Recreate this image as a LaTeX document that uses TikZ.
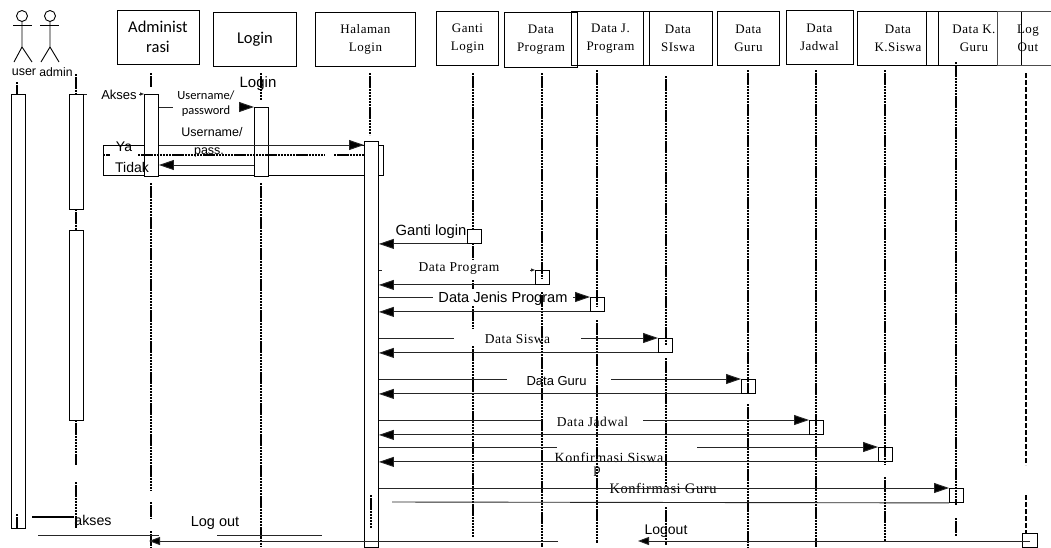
\documentclass[tikz,border=0pt]{standalone}
\usepackage{fontspec}
\usepackage{tikz}
\usetikzlibrary{positioning,arrows.meta}
\setmainfont{Liberation Sans}
\newfontfamily\serifbox[LetterSpace=4]{Liberation Serif}
\newfontfamily\calibox{Carlito}

\begin{document}
\begin{tikzpicture}[
    x=1pt, y=-1pt,
    head/.style={draw, circle, inner sep=0pt, minimum size=11pt, line width=0.9pt},
    limb/.style={line width=0.9pt},
    obj/.style={draw, line width=0.9pt, inner sep=0pt, align=center, anchor=north west},
    objserif/.style={obj, font=\fontsize{13}{18}\selectfont\serifbox},
    objcali/.style={obj, font=\fontsize{16.5}{20}\selectfont\calibox},
    act/.style={draw, fill=white, line width=0.9pt, inner sep=0pt, anchor=north west},
    life/.style={line width=1.4pt, dash pattern=on 2.4pt off 0.7pt},
    lifelong/.style={line width=1.4pt, dash pattern=on 5pt off 2pt},
    msg/.style={line width=0.9pt, draw=black!85},
    arrow/.style={msg, -{Triangle[length=15pt, width=10pt, fill=black]}},
    arrowshort/.style={msg, -{Triangle[length=11pt, width=8pt, fill=black]}},
    small/.style={msg, -{Triangle[length=4pt, width=3pt, fill=black]}},
    lbl/.style={inner sep=0pt, align=center, font=\fontsize{12}{14}\selectfont},
    lblserif/.style={lbl, font=\fontsize{13.5}{14}\selectfont\serifbox}
]
    \useasboundingbox (0,0) rectangle (1051,547);

    % objects across the top
    \node[objcali, minimum width=82pt, minimum height=54pt] (admin) at (116.5,9.5) {Administ\\rasi};
    \node[objcali, minimum width=83pt, minimum height=54pt] (login) at (213,12) {Login};
    \node[objserif, minimum width=100pt, minimum height=54pt] (halaman) at (315,12) {Halaman\\Login};
    \node[objserif, minimum width=62pt, minimum height=54pt] (ganti) at (436,11) {Ganti\\Login};
    \node[objserif, minimum width=73pt, minimum height=55pt] (program) at (504,12) {Data\\Program};
    \node[objserif, minimum width=78pt, minimum height=54pt] (jprogram) at (571,11) {Data J.\\Program};
    \node[objserif, minimum width=69pt, minimum height=54pt] (siswa) at (643,11) {Data\\SIswa};
    \node[objserif, minimum width=62pt, minimum height=54pt] (guru) at (717,11) {Data\\Guru};
    \node[objserif, minimum width=67pt, minimum height=54pt] (jadwal) at (785.5,9.5) {Data\\Jadwal};
    \node[objserif, minimum width=81pt, minimum height=54pt] (ksiswa) at (857,11) {Data\\K.Siswa};
    \node[objserif, minimum width=95pt, minimum height=54pt] (kguru) at (926,11) {Data K.\\Guru};
    \node[obj, minimum width=60pt, minimum height=54pt, draw=black!70] (logoutbox) at (997,11) {};
    \node[lblserif, font=\fontsize{13}{18}\selectfont\serifbox] (logouttxt) at (1028,38) {Log\\Out};

    % actors
    \node[head] (userhead) at (22,16) {};
    \coordinate (userhip) at (22,47);
    \coordinate (userarml) at (13,25);
    \coordinate (userarmr) at (32,25);
    \coordinate (userfootl) at (14,62);
    \coordinate (userfootr) at (32,62);
    \draw[limb] (userhead) -- (userhip) -- (userfootl);
    \draw[limb] (userhip) -- (userfootr);
    \draw[limb] (userarml) -- (userarmr);
    \node[head] (adminhead) at (50,16) {};
    \coordinate (adminhip) at (50,47);
    \coordinate (adminarml) at (40,25);
    \coordinate (adminarmr) at (59,25);
    \coordinate (adminfootl) at (41,62);
    \coordinate (adminfootr) at (59,62);
    \draw[limb] (adminhead) -- (adminhip) -- (adminfootl);
    \draw[limb] (adminhip) -- (adminfootr);
    \draw[limb] (adminarml) -- (adminarmr);
    \node[lbl, font=\fontsize{12.5}{13}\selectfont] (usertxt) at (24,72) {user};
    \node[lbl, font=\fontsize{12.2}{13}\selectfont] (admintxt) at (56,72) {admin};

    % activations
    \node[act, minimum width=14pt, minimum height=434pt] (actuser) at (11,94) {};
    \node[act, minimum width=14pt, minimum height=115pt] (actadmin) at (69,94) {};
    \node[act, minimum width=14pt, minimum height=190pt] (actadmintwo) at (69,230) {};
    \node[act, minimum width=14pt, minimum height=14pt] (actganti) at (467,229) {};
    \node[act, minimum width=14pt, minimum height=14pt] (actprog) at (535,270) {};
    \node[act, minimum width=14pt, minimum height=14pt] (actjprog) at (590,297) {};
    \node[act, minimum width=14pt, minimum height=14pt] (actsiswa) at (658,338) {};
    \node[act, minimum width=14pt, minimum height=14pt] (actguru) at (741,379) {};
    \node[act, minimum width=14pt, minimum height=14pt] (actjadwal) at (809,420) {};
    \node[act, minimum width=14pt, minimum height=14pt] (actksiswa) at (878,447) {};
    \node[act, minimum width=14pt, minimum height=14pt] (actkguru) at (949,488) {};

    % lifelines, top to bottom
    \foreach \name/\xx/\ya/\yb in {
        userl/17/82/94, userb/17/514/528,
        adminl/76/74/94, adminj/76/209/230, adminm/76/420/465, adminb/76/482/528,
        adminta/151/73/87, admintb/151/183/491, admintc/151/502/518, admintd/151/531/547,
        loginta/261/73/100, logintb/261/183/547,
        halta/370/73/135,
        gantita/473/73/229, gantitb/473/243/260, gantitc/473/280/289, gantitd/473/306/328, gantite/473/346/537,
        proga/542/73/278, progb/542/292/547,
        jproga/597/70/307, jprogb/597/320/543,
        siswaa/666/76/345, siswab/666/358/487, siswac/666/507/545,
        gurua/748/70/393, gurub/748/404/547,
        jadwala/816/70/547,
        ksiswaa/885/70/464, ksiswab/885/477/541,
        kgurua/956/62/505, kgurub/956/518/536} {
        \coordinate (\name s) at (\xx,\ya);
        \coordinate (\name e) at (\xx,\yb);
        \draw[life] (\name s) -- (\name e);
    }
    \coordinate (logoutas) at (1026,73);
    \coordinate (logoutae) at (1026,465);
    \coordinate (logoutbs) at (1026,495);
    \coordinate (logoutbe) at (1026,533);
    \draw[lifelong] (logoutas) -- (logoutae);
    \draw[lifelong] (logoutbs) -- (logoutbe);

    % frame and its guards
    \node[draw, line width=0.9pt, inner sep=0pt, minimum width=280pt, minimum height=30pt, anchor=north west] (frame) at (103,145) {};
    \node[act, minimum width=14pt, minimum height=82pt] (actadm) at (144,94) {};
    \node[act, minimum width=14pt, minimum height=69pt] (actlogin) at (254,107) {};
    \node[act, minimum width=14pt, minimum height=406pt] (acthal) at (364,141) {};
    \coordinate (haltbs) at (371,495);
    \coordinate (haltbe) at (371,528);
    \draw[life] (haltbs) -- (haltbe);
    \coordinate (guarda) at (103,155);
    \coordinate (guardb) at (110,155);
    \coordinate (guardc) at (138,155);
    \coordinate (guardd) at (325,155);
    \coordinate (guarde) at (334,155);
    \coordinate (guardf) at (364,155);
    \draw[line width=1.2pt, dash pattern=on 2.4pt off 0.7pt] (guarda) -- (guardb);
    \draw[line width=1.2pt, dash pattern=on 2.4pt off 0.7pt] (guardc) -- (guardd);
    \draw[line width=1.2pt, dash pattern=on 2.4pt off 0.7pt] (guarde) -- (guardf);
    \node[lbl, font=\fontsize{14}{16}\selectfont] (ya) at (124,147) {Ya};
    \node[lbl, font=\fontsize{14}{16}\selectfont] (tidak) at (132,167) {Tidak};

    % login messages
    \node[lbl, font=\fontsize{13}{14}\selectfont] (akses) at (119,95) {Akses};
    \coordinate (aksesstub) at (87,94);
    \coordinate (aksesend) at (139,94);
    \draw[msg] (actadmin.north east) -- (aksesstub);
    \draw[small] (aksesend) -- (actadm.north west);
    \node[lbl, font=\fontsize{15}{16}\selectfont] (logintxt) at (258,84) {Login};
    \node[lbl, minimum width=65pt, font=\fontsize{12.5}{15}\selectfont\calibox] (userpass) at (206,104) {Username/\\password};
    \draw[msg] (actadm.east |- actlogin.north) -- (userpass.west |- actlogin.north);
    \draw[arrow] (userpass.east |- actlogin.north) -- (actlogin.north west);
    \node[lbl, font=\fontsize{12.5}{18}\selectfont] (userpasstwo) at (212,142) {Username/\\\hspace*{-6pt}pass.};
    \draw[arrow] (actadm.east |- frame.north) -- (acthal.west |- frame.north);
    \coordinate (tidakrow) at (254,165);
    \draw[arrow] (actlogin.west |- tidakrow) -- (actadm.east |- tidakrow);

    % ganti login
    \node[lbl, font=\fontsize{14.8}{16}\selectfont] (gantitxt) at (431,232) {Ganti login};
    \draw[arrow] (actganti.south west) -- (acthal.east |- actganti.south west);

    % data program
    \node[lblserif] (progtxt) at (459,269) {Data Program};
    \coordinate (progtick) at (382,270);
    \coordinate (progstub) at (530,270);
    \draw[msg] (acthal.east |- actprog.north west) -- (progtick);
    \draw[small] (progstub) -- (actprog.north west);
    \draw[arrow] (actprog.south west) -- (acthal.east |- actprog.south west);

    % data jenis program
    \node[lbl, minimum width=140pt, font=\fontsize{14.6}{16}\selectfont] (jprogtxt) at (503,299) {Data Jenis Program};
    \draw[msg] (acthal.east |- actjprog.north west) -- (jprogtxt.west |- actjprog.north west);
    \draw[arrow] (jprogtxt.east |- actjprog.north west) -- (actjprog.north west);
    \draw[arrow] (actjprog.south west) -- (acthal.east |- actjprog.south west);

    % data siswa
    \node[lblserif, minimum width=127pt] (siswatxt) at (517.5,339) {Data Siswa};
    \draw[msg] (acthal.east |- actsiswa.north west) -- (siswatxt.west |- actsiswa.north west);
    \draw[arrow] (siswatxt.east |- actsiswa.north west) -- (actsiswa.north west);
    \draw[arrow] (actsiswa.south west) -- (acthal.east |- actsiswa.south west);

    % data guru
    \node[lbl, minimum width=104pt, font=\fontsize{13}{14}\selectfont] (gurutxt) at (559,381) {\hspace*{-5pt}Data Guru};
    \draw[msg] (acthal.east |- actguru.north west) -- (gurutxt.west |- actguru.north west);
    \draw[arrow] (gurutxt.east |- actguru.north west) -- (actguru.north west);
    \draw[arrow] (actguru.south west) -- (acthal.east |- actguru.south west);

    % data jadwal
    \node[lblserif, minimum width=101pt] (jadwaltxt) at (592.5,422) {Data Jadwal};
    \draw[msg] (acthal.east |- actjadwal.north west) -- (jadwaltxt.west |- actjadwal.north west);
    \draw[arrow] (jadwaltxt.east |- actjadwal.north west) -- (actjadwal.north west);
    \draw[arrow] (actjadwal.south west) -- (acthal.east |- actjadwal.south west);

    % konfirmasi siswa
    \node[lblserif, font=\fontsize{14}{11}\selectfont\serifbox] (ksiswatxt) at (609,465) {Konfirmasi Siswa\\\hspace*{-24pt}p};
    \coordinate (ksiswastop) at (557,447);
    \coordinate (ksiswago) at (697,447);
    \draw[msg] (acthal.east |- actksiswa.north west) -- (ksiswastop);
    \draw[arrow] (ksiswago) -- (actksiswa.north west);
    \draw[arrow] (actksiswa.south west) -- (acthal.east |- actksiswa.south west);

    % konfirmasi guru
    \node[lblserif, font=\fontsize{14.5}{14}\selectfont\serifbox] (kgurutxt) at (663,488) {Konfirmasi Guru};
    \coordinate (kgurustart) at (392,502);
    \draw[arrow] (acthal.east |- actkguru.north west) -- (actkguru.north west);
    \draw[msg] (actkguru.south west) -- (kgurustart);

    % closing messages
    \coordinate (aksesa) at (32,517);
    \coordinate (aksesb) at (74,517);
    \draw[line width=1.3pt] (aksesa) -- (aksesb);
    \node[lbl, font=\fontsize{14.2}{15}\selectfont] (aksestxt) at (93,520) {akses};
    \coordinate (closea) at (38,535);
    \coordinate (closeb) at (159,535);
    \draw[msg] (closea) -- (closeb);
    \node[lbl, font=\fontsize{14.5}{15}\selectfont] (logouta) at (215,523) {Log out};
    \coordinate (closec) at (217,535);
    \coordinate (closed) at (322,535);
    \draw[msg] (closec) -- (closed);
    \coordinate (closee) at (558,541);
    \coordinate (closef) at (149,541);
    \draw[arrowshort] (closee) -- (closef);
    \node[act, minimum width=15pt, minimum height=14pt, fill=none] (actlogout) at (1022,533) {};
    \node[lbl, font=\fontsize{14}{15}\selectfont] (logoutb) at (666,531) {Logout};
    \coordinate (closeg) at (1030,541);
    \coordinate (closeh) at (638,541);
    \draw[arrowshort] (closeg) -- (closeh);
\end{tikzpicture}
\end{document}
